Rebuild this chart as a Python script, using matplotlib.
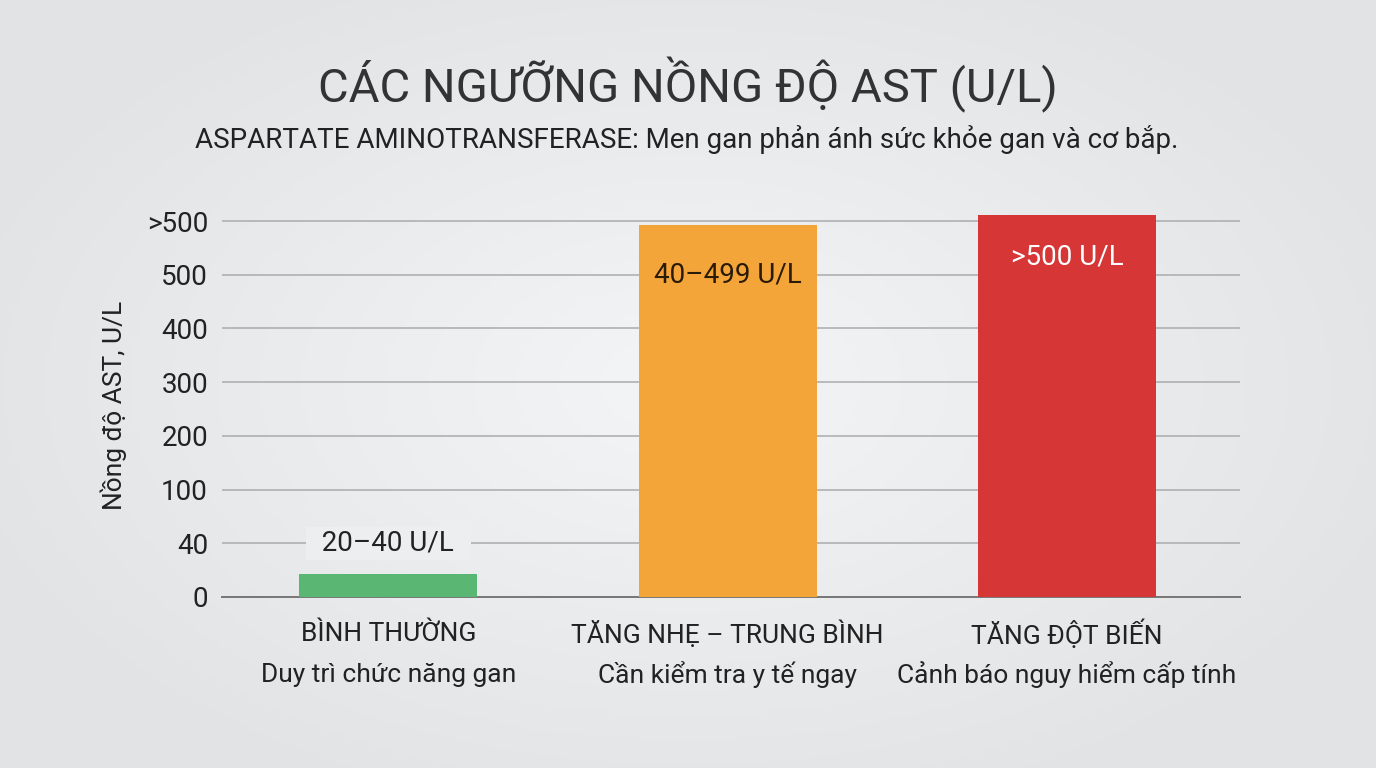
import numpy as np
import matplotlib
matplotlib.use("Agg")
import matplotlib.pyplot as plt
from matplotlib.colors import LinearSegmentedColormap

plt.rcParams['font.family'] = ['Roboto', 'DejaVu Sans']

# ---- data ----
categories = ["BÌNH THƯỜNG", "TĂNG NHẸ – TRUNG BÌNH", "TĂNG ĐỘT BIẾN"]
descriptions = ["Duy trì chức năng gan", "Cần kiểm tra y tế ngay", "Cảnh báo nguy hiểm cấp tính"]
bar_values = [17, 593, 611]
bar_labels = ["20–40 U/L", "40–499 U/L", ">500 U/L"]
label_values = [40, 500, 533]
bar_colors = ["#5ab673", "#f4a53a", "#d63636"]
label_colors = ["#222222", "#2a1a08", "#ffffff"]

tick_values = [0, 40, 100, 200, 300, 400, 500, 600]
tick_labels = ["0", "40", "100", "200", "300", "400", "500", ">500"]
tick_pos = list(range(len(tick_values)))


# piecewise axis: each tick step gets the same height
def forward(v):
    return np.interp(v, tick_values + [1000], tick_pos + [11.0])


def inverse(p):
    return np.interp(p, tick_pos + [11.0], tick_values + [1000])


fig = plt.figure(figsize=(13.76, 7.68), dpi=100)

# background gradient
bg = fig.add_axes([0, 0, 1, 1], zorder=-10)
yy, xx = np.mgrid[0:1:200j, 0:1:360j]
r = np.sqrt(((xx - 0.5) / 0.75) ** 2 + ((yy - 0.5) / 0.8) ** 2)
cmap = LinearSegmentedColormap.from_list("bg", ["#f4f5f6", "#ebeced", "#e1e3e5"])
bg.imshow(r, cmap=cmap, aspect="auto", extent=[0, 1, 0, 1], vmin=0, vmax=0.75)
bg.axis("off")

ax = fig.add_axes([0.1613, 0.2227, 0.7399, 0.5])
ax.set_facecolor("none")
ax.set_yscale("function", functions=(forward, inverse))
ax.set_ylim(0, 615)
ax.set_xlim(-0.49, 2.51)

ax.set_yticks(tick_values)
ax.set_yticklabels(tick_labels)
ax.yaxis.grid(True, color="#a9abad", linewidth=1.1)
ax.set_axisbelow(True)
ax.tick_params(axis="y", length=0, pad=10, labelsize=20, labelcolor="#222222")
ax.tick_params(axis="x", length=0, labelbottom=False)
for s in ["top", "right", "left"]:
    ax.spines[s].set_visible(False)
ax.spines["bottom"].set_color("#777777")
ax.spines["bottom"].set_linewidth(1.4)

x = np.arange(len(categories))
ax.bar(x, bar_values, width=0.525, color=bar_colors, zorder=3)

for i in range(len(categories)):
    txt = bar_labels[i]
    kw = {}
    if i == 0:
        txt = "  " + txt + "  "
        kw["bbox"] = dict(boxstyle="square,pad=0.1", facecolor="#eceeef", edgecolor="none")
    ax.text(x[i], label_values[i], txt, ha="center", va="center",
            fontsize=20, color=label_colors[i], zorder=4, **kw)
    ax.text(x[i], -0.096, categories[i], transform=ax.get_xaxis_transform(),
            ha="center", va="center", fontsize=19, color="#222222")
    ax.text(x[i], -0.203, descriptions[i], transform=ax.get_xaxis_transform(),
            ha="center", va="center", fontsize=19, color="#222222")

ax.set_ylabel("Nồng độ AST, U/L", fontsize=19, color="#222222", labelpad=14)

fig.text(0.4997, 0.889, "CÁC NGƯỠNG NỒNG ĐỘ AST (U/L)", ha="center", va="center",
         fontsize=34, color="#333333")
fig.text(0.499, 0.818, "ASPARTATE AMINOTRANSFERASE: Men gan phản ánh sức khỏe gan và cơ bắp.",
         ha="center", va="center", fontsize=20, color="#222222")

fig.savefig("out.png", dpi=100)
